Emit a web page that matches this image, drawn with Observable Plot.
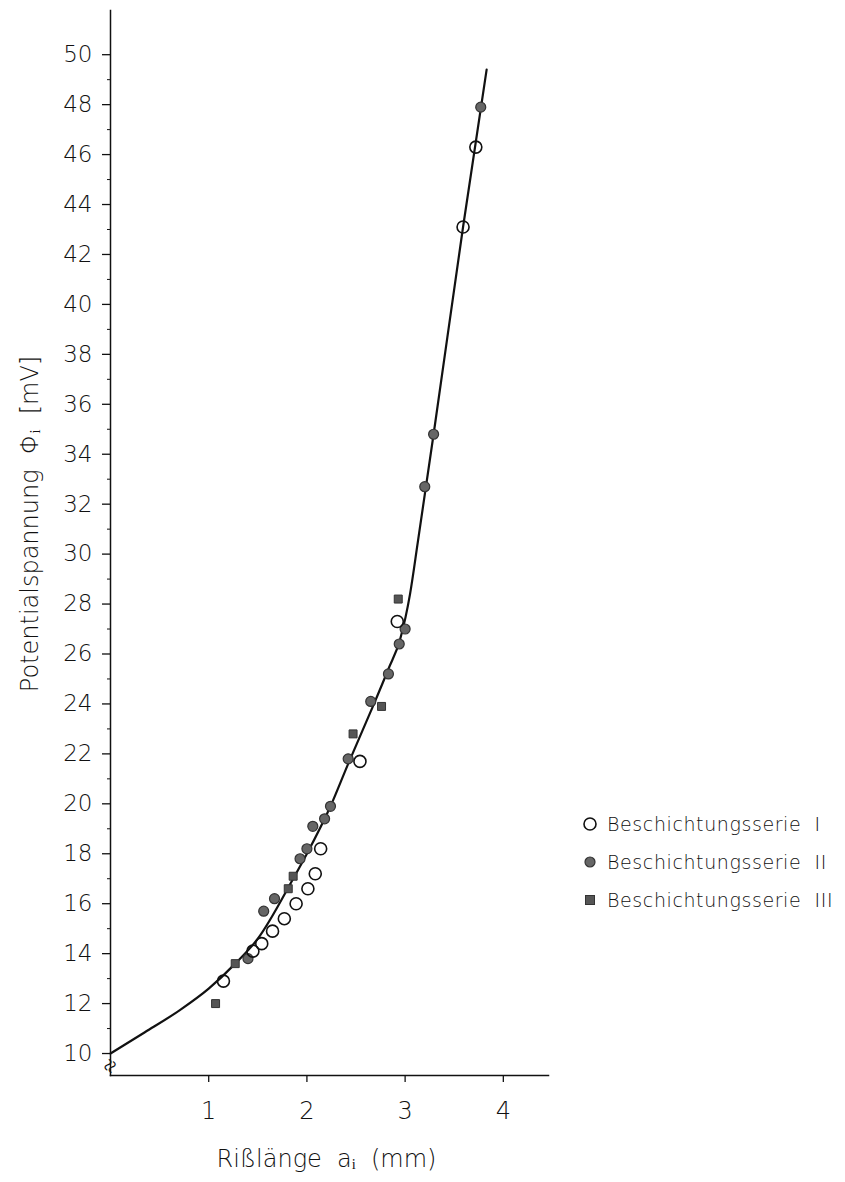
<!DOCTYPE html>
<html><head><meta charset="utf-8">
<script src="https://cdn.jsdelivr.net/npm/d3@7"></script>
<script src="https://cdn.jsdelivr.net/npm/@observablehq/plot@0.6"></script>
<style>
body{margin:0;background:#fff;}
#wrap{position:relative;width:845px;height:1182px;font-family:"DejaVu Sans",sans-serif;font-weight:300;color:#111;}
#legend{position:absolute;left:582px;top:805px;font-size:19px;letter-spacing:0.6px;line-height:38px;}
#legend div{display:flex;align-items:center;white-space:pre;}
#legend svg{margin-right:9px;}
</style></head><body><div id="wrap"><div id="legend"></div></div>
<script>
// Series I (open circles)
const serieI_a   = [1.15, 1.45, 1.54, 1.65, 1.77, 1.89, 2.01, 2.085, 2.14, 2.54, 2.92, 3.59, 3.72];
const serieI_phi = [12.9, 14.1, 14.4, 14.9, 15.4, 16.0, 16.6, 17.2, 18.2, 21.7, 27.3, 43.1, 46.3];
// Series II (filled circles)
const serieII_a   = [1.40, 1.56, 1.67, 1.93, 2.00, 2.06, 2.18, 2.24, 2.42, 2.65, 2.83, 2.94, 3.00, 3.20, 3.29, 3.77];
const serieII_phi = [13.8, 15.7, 16.2, 17.8, 18.2, 19.1, 19.4, 19.9, 21.8, 24.1, 25.2, 26.4, 27.0, 32.7, 34.8, 47.9];
// Series III (squares)
const serieIII_a   = [1.07, 1.27, 1.81, 1.86, 2.47, 2.76, 2.93];
const serieIII_phi = [12.0, 13.6, 16.6, 17.1, 22.8, 23.9, 28.2];
// Fitted curve
const curve_a   = [0, 0.35, 0.71, 1.0, 1.27, 1.5, 1.86, 2.0, 2.24, 2.42, 2.65, 2.83, 2.95, 3.05, 3.13, 3.29, 3.59, 3.83];
const curve_phi = [10.0, 10.85, 11.75, 12.6, 13.6, 14.6, 17.0, 18.0, 19.9, 21.6, 23.7, 25.4, 26.6, 28.4, 30.5, 34.8, 43.1, 49.4];
// Axis ticks
const yTicks = d3.range(10, 51, 2);
const yMinor = d3.range(11, 50, 2);
const xTicks = [1, 2, 3, 4];
const legendLabels = ["Beschichtungsserie  I", "Beschichtungsserie  II", "Beschichtungsserie  III"];
const yLabel = "Potentialspannung  Φᵢ  [mV]";
const xLabel = "Rißlänge  aᵢ  (mm)";

const zip = (a, b) => a.map((v, i) => ({a: v, phi: b[i]}));
const dI = zip(serieI_a, serieI_phi), dII = zip(serieII_a, serieII_phi), dIII = zip(serieIII_a, serieIII_phi);
const dC = zip(curve_a, curve_phi);

const chart = Plot.plot({
  width: 845, height: 1182,
  marginLeft: 110, marginRight: 297, marginTop: 10, marginBottom: 107,
  style: {fontFamily: "DejaVu Sans", fontWeight: 300, color: "#111", background: "#fff"},
  x: {domain: [0, 4.46]},
  y: {domain: [9.12, 51.77]},
  marks: [
    Plot.frame({anchor: "left", stroke: "#111", strokeWidth: 1.5}),
    Plot.frame({anchor: "bottom", stroke: "#111", strokeWidth: 1.5}),
    Plot.axisY({ticks: yTicks, tickSize: 8, tickPadding: 10, fontSize: 23, label: null, strokeWidth: 1.3, tickFormat: "d"}),
    Plot.axisY({ticks: yMinor, tickSize: 3, text: null, label: null}),
    Plot.axisX({ticks: xTicks, tickSize: 7, tickPadding: 19, fontSize: 24, label: null, strokeWidth: 1.3, tickFormat: "d"}),
    Plot.text(["≈"], {x: 0, y: 9.5, fontSize: 24, fill: "#111", rotate: -60}),
    Plot.line(dC, {x: "a", y: "phi", curve: "monotone-x", stroke: "#111", strokeWidth: 2.2}),
    Plot.dot(dIII, {x: "a", y: "phi", symbol: "square", r: 4.5, fill: "#555", stroke: "#333", strokeWidth: 1}),
    Plot.dot(dII, {x: "a", y: "phi", r: 5, fill: "#666", stroke: "#333", strokeWidth: 1.2}),
    Plot.dot(dI, {x: "a", y: "phi", r: 6, fill: "none", stroke: "#111", strokeWidth: 1.6}),
    Plot.text([yLabel], {frameAnchor: "left", textAnchor: "middle", lineAnchor: "middle", rotate: -90, dx: -80, dy: -19, fontSize: 24, fill: "#111"}),
    Plot.text([xLabel], {frameAnchor: "bottom", textAnchor: "middle", lineAnchor: "middle", dx: -3, dy: 84, fontSize: 24, fill: "#111"})
  ]
});
document.getElementById("wrap").prepend(chart);

const sym = [
  '<svg width="16" height="16"><circle cx="8" cy="8" r="6" fill="none" stroke="#111" stroke-width="1.6"/></svg>',
  '<svg width="16" height="16"><circle cx="8" cy="8" r="5" fill="#666" stroke="#333" stroke-width="1.2"/></svg>',
  '<svg width="16" height="16"><rect x="3.5" y="3.5" width="9" height="9" fill="#555" stroke="#333"/></svg>'
];
const leg = document.getElementById("legend");
legendLabels.forEach((t, i) => {
  const row = document.createElement("div");
  row.innerHTML = sym[i] + "<span></span>";
  row.querySelector("span").textContent = t;
  leg.appendChild(row);
});
</script>
</body></html>
